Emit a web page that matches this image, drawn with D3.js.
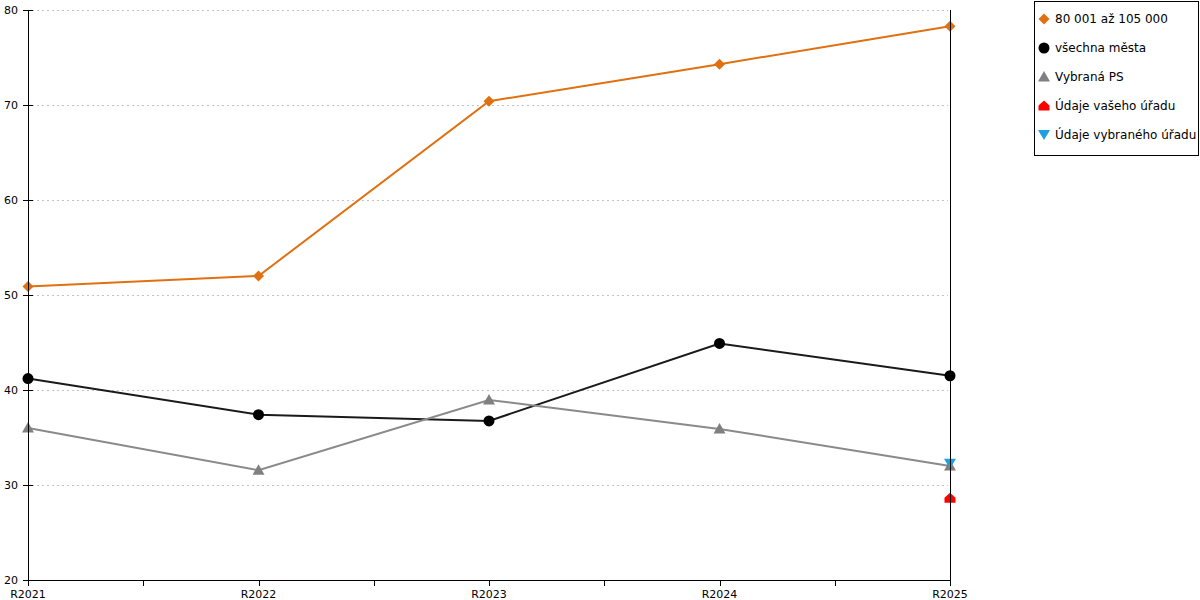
<!DOCTYPE html>
<html>
<head>
<meta charset="utf-8">
<script src="https://d3js.org/d3.v7.min.js"></script>
<style>
  body { margin: 0; background: #fff; }
  svg { display: block; font-family: "DejaVu Sans", Verdana, sans-serif; }
</style>
</head>
<body>
<svg id="chart" width="1200" height="600"></svg>
<script>
// data
var categories = ["R2021", "R2022", "R2023", "R2024", "R2025"];
var yTicks = [20, 30, 40, 50, 60, 70, 80];
var pocet = [50.9, 52.0, 70.4, 74.3, 78.3];       // 80 001 až 105 000
var vsechna = [41.2, 37.4, 36.75, 44.9, 41.5];    // všechna města
var vybranaPS = [36.0, 31.55, 38.95, 35.9, 32.0]; // Vybraná PS
var vasUrad = [null, null, null, null, 28.6];     // Údaje vašeho úřadu
var vybranyUrad = [null, null, null, null, 32.25]; // Údaje vybraného úřadu

var series = [
  { name: "80 001 až 105 000", values: pocet, color: "#e07010", line: "#e07010", marker: "diamond" },
  { name: "všechna města", values: vsechna, color: "#000", line: "#1a1a1a", marker: "circle" },
  { name: "Vybraná PS", values: vybranaPS, color: "#808080", line: "#8a8a8a", marker: "triangle" },
  { name: "Údaje vašeho úřadu", values: vasUrad, color: "#ff0000", line: null, marker: "house" },
  { name: "Údaje vybraného úřadu", values: vybranyUrad, color: "#1ea0e0", line: null, marker: "down" }
];

var svg = d3.select("#chart");
var x = d3.scalePoint().domain(categories).range([28, 950]);
var y = d3.scaleLinear().domain([20, 80]).range([580, 10]);

// grid lines
svg.append("g").selectAll("line")
  .data(yTicks.filter(function(t) { return t > 20; }))
  .join("line")
  .attr("x1", 32).attr("x2", 948)
  .attr("y1", function(d) { return y(d) + 0.5; })
  .attr("y2", function(d) { return y(d) + 0.5; })
  .attr("stroke", "#c4c4c4")
  .attr("stroke-dasharray", "2,3");

function markerPath(type, cx, cy) {
  var p = d3.path();
  if (type == "diamond") {
    p.moveTo(cx, cy - 5.5); p.lineTo(cx + 5.5, cy); p.lineTo(cx, cy + 5.5); p.lineTo(cx - 5.5, cy); p.closePath();
  } else if (type == "circle") {
    p.arc(cx, cy, 5.5, 0, 2 * Math.PI);
  } else if (type == "triangle") {
    p.moveTo(cx, cy - 6); p.lineTo(cx + 6, cy + 4.5); p.lineTo(cx - 6, cy + 4.5); p.closePath();
  } else if (type == "down") {
    p.moveTo(cx - 6, cy - 5); p.lineTo(cx + 6, cy - 5); p.lineTo(cx, cy + 5); p.closePath();
  } else if (type == "house") {
    p.moveTo(cx, cy - 5.5); p.lineTo(cx + 5.5, cy - 0.5); p.lineTo(cx + 5.5, cy + 4.5);
    p.lineTo(cx - 5.5, cy + 4.5); p.lineTo(cx - 5.5, cy - 0.5); p.closePath();
  }
  return p.toString();
}

var line = d3.line()
  .defined(function(d) { return d != null; })
  .x(function(d, i) { return x(categories[i]); })
  .y(function(d) { return y(d); });

series.forEach(function(s) {
  if (s.line) {
    svg.append("path")
      .datum(s.values)
      .attr("fill", "none")
      .attr("stroke", s.line)
      .attr("stroke-width", 2)
      .attr("d", line);
  }
});

series.forEach(function(s) {
  svg.append("g").selectAll("path")
    .data(s.values.map(function(v, i) { return { v: v, c: categories[i] }; }).filter(function(d) { return d.v != null; }))
    .join("path")
    .attr("fill", s.color)
    .attr("d", function(d) { return markerPath(s.marker, x(d.c), y(d.v)); });
});

// axes
var yAxis = svg.append("g");
yAxis.append("line").attr("x1", 28.5).attr("x2", 28.5).attr("y1", 10).attr("y2", 580).attr("stroke", "#000");
yAxis.selectAll("line.t").data(yTicks).join("line").attr("class", "t")
  .attr("x1", 23).attr("x2", 33)
  .attr("y1", function(d) { return y(d) + 0.5; }).attr("y2", function(d) { return y(d) + 0.5; })
  .attr("stroke", "#000");
yAxis.selectAll("text").data(yTicks).join("text")
  .attr("x", 18).attr("y", function(d) { return y(d) + 4; })
  .attr("text-anchor", "end")
  .attr("font-size", 11)
  .attr("fill", "#000")
  .text(function(d) { return d; });

var xAxis = svg.append("g");
xAxis.append("line").attr("x1", 28).attr("x2", 950).attr("y1", 580.5).attr("y2", 580.5).attr("stroke", "#000");
var step = x.step();
var tickPos = [];
categories.forEach(function(c, i) {
  tickPos.push(x(c));
  if (i < categories.length - 1) tickPos.push(x(c) + step / 2);
});
xAxis.selectAll("line.t").data(tickPos).join("line").attr("class", "t")
  .attr("x1", function(d) { return Math.round(d) + 0.5; }).attr("x2", function(d) { return Math.round(d) + 0.5; })
  .attr("y1", 580).attr("y2", 586)
  .attr("stroke", "#000");
xAxis.selectAll("text").data(categories).join("text")
  .attr("x", function(d) { return x(d); }).attr("y", 598)
  .attr("text-anchor", "middle")
  .attr("font-size", 11)
  .attr("fill", "#000")
  .text(function(d) { return d; });

// right-hand line at the last category
svg.append("line")
  .attr("x1", x("R2025") + 0.5).attr("x2", x("R2025") + 0.5)
  .attr("y1", 10).attr("y2", 586)
  .attr("stroke", "#000");

// legend
var legend = svg.append("g");
legend.append("rect")
  .attr("x", 1034.5).attr("y", 1.5).attr("width", 164).attr("height", 154)
  .attr("fill", "#fff").attr("stroke", "#000");
series.forEach(function(s, i) {
  var ly = 19 + i * 29;
  legend.append("path").attr("fill", s.color).attr("d", markerPath(s.marker, 1044, ly));
  legend.append("text")
    .attr("x", 1055).attr("y", ly + 4)
    .attr("font-size", 12)
    .attr("fill", "#000")
    .text(s.name);
});
</script>
</body>
</html>
